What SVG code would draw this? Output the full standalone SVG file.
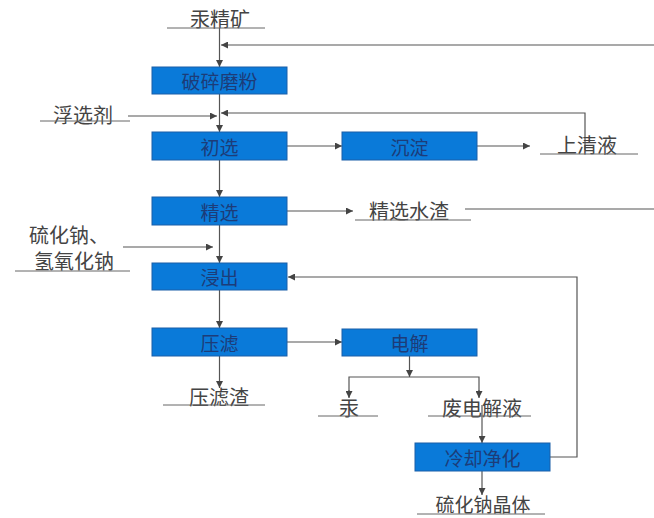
<svg xmlns="http://www.w3.org/2000/svg" width="654" height="518" viewBox="0 0 654 518">
<style>
.box{fill:#0a7ad9;stroke:#1a5fa8;stroke-width:1}
.bt{font-family:"Noto Sans CJK SC","Noto Sans",sans-serif;font-size:19px;fill:#1d3c78;text-anchor:middle;dominant-baseline:central}
.lt{font-family:"Noto Sans CJK SC","Noto Sans",sans-serif;font-size:20px;fill:#444;text-anchor:middle;dominant-baseline:central}
.ln{stroke:#555;stroke-width:1.2;fill:none}
.ul{stroke:#666;stroke-width:1;fill:none}
</style>
<defs>
<marker id="ah" viewBox="0 0 10 10" refX="10" refY="5" markerWidth="7" markerHeight="7" markerUnits="userSpaceOnUse" orient="auto">
<path d="M0,0 L10,5 L0,10 z" fill="#444"/>
</marker>
</defs>
<g id="connectors">
<line class="ln" x1="219.5" y1="28" x2="219.5" y2="67" marker-end="url(#ah)"/>
<line class="ln" x1="654" y1="45" x2="221" y2="45" marker-end="url(#ah)"/>
<line class="ln" x1="219.5" y1="94" x2="219.5" y2="132" marker-end="url(#ah)"/>
<line class="ln" x1="128" y1="116" x2="217" y2="116" marker-end="url(#ah)"/>
<polyline class="ln" points="585,150 585,113 221,113" marker-end="url(#ah)"/>
<line class="ln" x1="287" y1="146" x2="342" y2="146" marker-end="url(#ah)"/>
<line class="ln" x1="477" y1="146" x2="530" y2="146" marker-end="url(#ah)"/>
<line class="ln" x1="219.5" y1="160" x2="219.5" y2="197" marker-end="url(#ah)"/>
<line class="ln" x1="287" y1="211" x2="353" y2="211" marker-end="url(#ah)"/>
<line class="ln" x1="465" y1="209" x2="654" y2="209"/>
<line class="ln" x1="123" y1="247" x2="213" y2="247" marker-end="url(#ah)"/>
<line class="ln" x1="219.5" y1="225" x2="219.5" y2="263" marker-end="url(#ah)"/>
<polyline class="ln" points="550,457 577,457 577,277 288,277" marker-end="url(#ah)"/>
<line class="ln" x1="219.5" y1="290" x2="219.5" y2="328" marker-end="url(#ah)"/>
<line class="ln" x1="287" y1="342" x2="342" y2="342" marker-end="url(#ah)"/>
<line class="ln" x1="219.5" y1="356" x2="219.5" y2="388" marker-end="url(#ah)"/>
<line class="ln" x1="409.5" y1="356" x2="409.5" y2="377" marker-end="url(#ah)"/>
<polyline class="ln" points="349,397 349,377 479,377 479,397"/>
<line class="ln" x1="349" y1="390" x2="349" y2="398" marker-end="url(#ah)"/>
<line class="ln" x1="479" y1="390" x2="479" y2="398" marker-end="url(#ah)"/>
<line class="ln" x1="482" y1="405" x2="482" y2="443" marker-end="url(#ah)"/>
<line class="ln" x1="482" y1="471" x2="482" y2="495" marker-end="url(#ah)"/>
</g>
<g id="n-ore"><text class="lt" x="220" y="18">汞精矿</text><line class="ul" x1="167" y1="28" x2="265" y2="28"/></g>
<g id="n-crush"><rect class="box" x="152" y="67" width="135" height="27"/><text class="bt" x="219.5" y="80.5">破碎磨粉</text></g>
<g id="n-flot"><text class="lt" x="83" y="114">浮选剂</text><line class="ul" x1="40" y1="121" x2="130" y2="121"/></g>
<g id="n-rough"><rect class="box" x="152" y="132" width="135" height="28"/><text class="bt" x="219.5" y="146">初选</text></g>
<g id="n-settle"><rect class="box" x="342" y="132" width="135" height="28"/><text class="bt" x="409.5" y="146">沉淀</text></g>
<g id="n-super"><text class="lt" x="587" y="144">上清液</text><line class="ul" x1="540" y1="154" x2="638" y2="154"/></g>
<g id="n-clean"><rect class="box" x="152" y="197" width="135" height="28"/><text class="bt" x="219.5" y="211">精选</text></g>
<g id="n-tail"><text class="lt" x="409" y="210">精选水渣</text><line class="ul" x1="355" y1="220" x2="471" y2="220"/></g>
<g id="n-reag"><text class="lt" x="69" y="234">硫化钠、</text><text class="lt" x="74" y="260">氢氧化钠</text><line class="ul" x1="15" y1="271" x2="130" y2="271"/></g>
<g id="n-leach"><rect class="box" x="152" y="263" width="135" height="27"/><text class="bt" x="219.5" y="276.5">浸出</text></g>
<g id="n-press"><rect class="box" x="152" y="328" width="135" height="28"/><text class="bt" x="219.5" y="342">压滤</text></g>
<g id="n-elec"><rect class="box" x="342" y="329" width="135" height="27"/><text class="bt" x="409.5" y="342.5">电解</text></g>
<g id="n-cake"><text class="lt" x="219" y="396">压滤渣</text><line class="ul" x1="163" y1="405" x2="265" y2="405"/></g>
<g id="n-hg"><text class="lt" x="349" y="407">汞</text><line class="ul" x1="318" y1="416" x2="378" y2="416"/></g>
<g id="n-waste"><text class="lt" x="482" y="407">废电解液</text><line class="ul" x1="428" y1="416" x2="531" y2="416"/></g>
<g id="n-cool"><rect class="box" x="415" y="443" width="135" height="28"/><text class="bt" x="482.5" y="457">冷却净化</text></g>
<g id="n-cryst"><text class="lt" x="483" y="503" style="font-size:19px">硫化钠晶体</text><line class="ul" x1="417" y1="514" x2="545" y2="514"/></g>
</svg>
